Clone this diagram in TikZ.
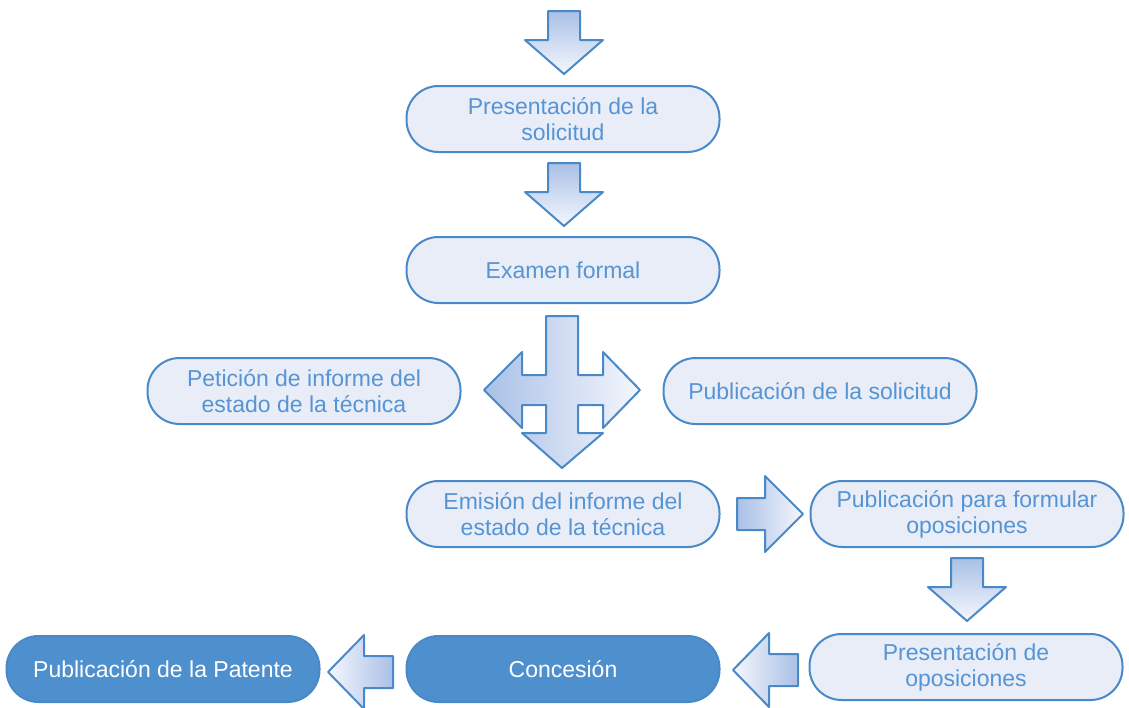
\documentclass[tikz,border=0pt]{standalone}
\usepackage{fontspec}
\setmainfont{Liberation Sans}
\definecolor{bord}{HTML}{4A89C8}
\definecolor{boxfill}{HTML}{E8EDF8}
\definecolor{txt}{HTML}{5694D4}
\definecolor{darkfill}{HTML}{4E8FCD}
\definecolor{arrdark}{HTML}{A9C0E6}
\definecolor{arrlight}{HTML}{F5F7FD}
\begin{document}
\begin{tikzpicture}[x=1pt,y=-1pt,
 box/.style={draw=bord, line width=2pt, fill=boxfill, rounded corners=32pt,
   minimum width=313pt, minimum height=66pt, text=txt,
   font=\fontsize{23}{26}\selectfont, align=center, inner sep=0pt},
 darkbox/.style={box, fill=darkfill, text=white},
 blk/.style={draw=bord, line width=2pt, line join=round},
 downarrow/.pic={\path[blk, top color=arrdark, bottom color=arrlight]
   (-16,0) -- (16,0) -- (16,29) -- (39,29) -- (0,63) -- (-39,29) -- (-16,29) -- cycle;},
 rightarrow/.pic={\path[blk, left color=arrdark, right color=arrlight]
   (0,-16) -- (28,-16) -- (28,-38) -- (66,0) -- (28,38) -- (28,16) -- (0,16) -- cycle;},
 leftarrow/.pic={\path[blk, left color=arrlight, right color=arrdark]
   (0,-16) -- (-29,-16) -- (-29,-37) -- (-65,0) -- (-29,37) -- (-29,16) -- (0,16) -- cycle;},
]
\useasboundingbox (0,0) rectangle (1129,707);

\node[box] (pres) at (563,119) {Presentación de la\\solicitud};
\node[box] (exam) at (563,270) {Examen formal};
\node[box] (peti) at (304,391) {Petición de informe del\\estado de la técnica};
\node[box] (publ) at (820,391) {Publicación de la solicitud};
\node[box] (emis) at (563,514) {Emisión del informe del\\estado de la técnica};
\node[box] (form) at (967,514) {Publicación para formular\\oposiciones};
\node[box] (opos) at (966,667) {Presentación de\\oposiciones};
\node[darkbox] (conc) at (563,669) {Concesión};
\node[darkbox] (pate) at (163,669) {Publicación de la Patente};

\pic at (564,11) {downarrow};
\pic at (564,163) {downarrow};
\pic at (967,558) {downarrow};
\pic at (737,514) {rightarrow};
\pic at (798,670) {leftarrow};
\pic at (393,672) {leftarrow};

\path[blk, left color=arrdark, right color=arrlight]
  (546,316) -- (578,316) -- (578,375) -- (603,375) -- (603,352) -- (640,390)
  -- (603,428) -- (603,405) -- (578,405) -- (578,433) -- (603,433) -- (562,468)
  -- (522,433) -- (546,433) -- (546,405) -- (522,405) -- (522,428) -- (484,390)
  -- (522,352) -- (522,375) -- (546,375) -- cycle;
\end{tikzpicture}
\end{document}
